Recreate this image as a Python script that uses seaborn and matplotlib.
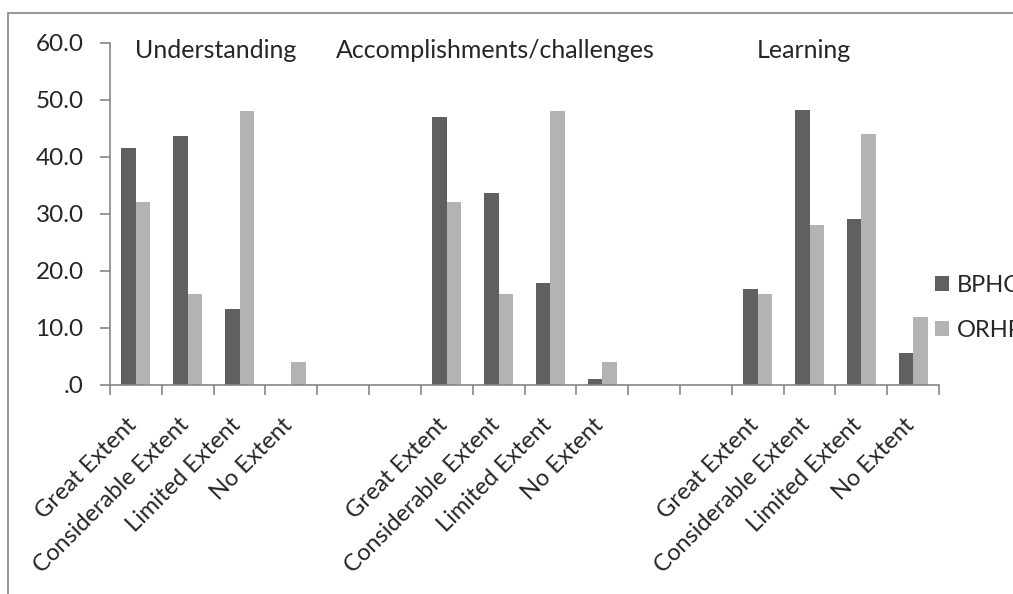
import matplotlib
matplotlib.use("Agg")
import matplotlib.pyplot as plt
import seaborn as sns
import pandas as pd
from matplotlib.patches import Rectangle

# Response levels and the three question groups
levels = ["Great Extent", "Considerable Extent", "Limited Extent", "No Extent"]
groups = ["Understanding", "Accomplishments/challenges", "Learning"]
series = ["BPHC", "ORHP"]

# Percentages per group (Great, Considerable, Limited, No)
understanding_bphc = [41.5, 43.7, 13.4, 0.0]
understanding_orhp = [32.0, 16.0, 48.0, 4.0]
accomplish_bphc = [47.0, 33.6, 17.9, 1.0]
accomplish_orhp = [32.0, 16.0, 48.0, 4.0]
learning_bphc = [16.8, 48.2, 29.1, 5.6]
learning_orhp = [16.0, 28.0, 44.0, 12.0]

yticks = [0, 10, 20, 30, 40, 50, 60]
ytick_labels = [".0", "10.0", "20.0", "30.0", "40.0", "50.0", "60.0"]

group_values = {
    "Understanding": (understanding_bphc, understanding_orhp),
    "Accomplishments/challenges": (accomplish_bphc, accomplish_orhp),
    "Learning": (learning_bphc, learning_orhp),
}

# Build the category slots: four levels per group, two empty slots between groups
rows = []
order = []
tick_text = []
for gi, g in enumerate(groups):
    bphc, orhp = group_values[g]
    for li, lvl in enumerate(levels):
        key = f"{g}|{lvl}"
        order.append(key)
        tick_text.append(lvl)
        rows.append({"slot": key, "series": "BPHC", "value": bphc[li]})
        rows.append({"slot": key, "series": "ORHP", "value": orhp[li]})
    if gi < len(groups) - 1:
        for k in range(2):
            order.append(f"gap{gi}{k}")
            tick_text.append("")
df = pd.DataFrame(rows)

sns.set_style("white")
plt.rcParams["font.family"] = ["Lato", "DejaVu Sans"]

fig = plt.figure(figsize=(10.13, 5.94), dpi=100)
ax = fig.add_axes([0.1086, 0.3519, 0.8184, 0.5763])

palette = {"BPHC": "#606060", "ORHP": "#b3b3b3"}
sns.barplot(data=df, x="slot", y="value", hue="series", order=order,
            hue_order=series, palette=palette, width=0.56, gap=0,
            linewidth=0, saturation=1, errorbar=None, ax=ax)

ax.set_xlim(-0.5, len(order) - 0.5)
ax.set_ylim(0, 60)
ax.set_xlabel("")
ax.set_ylabel("")

spine_col = "#868686"
for side in ["top", "right"]:
    ax.spines[side].set_visible(False)
for side in ["left", "bottom"]:
    ax.spines[side].set_color(spine_col)
    ax.spines[side].set_linewidth(1.2)

ax.set_yticks(yticks)
ax.set_yticklabels(ytick_labels, fontsize=17.5)
ax.set_xticks([i - 0.5 for i in range(len(order) + 1)], minor=True)
ax.set_xticks(range(len(order)))
ax.set_xticklabels(tick_text, rotation=45, ha="right", rotation_mode="anchor",
                   fontsize=17)
ax.tick_params(axis="x", which="major", length=0, pad=21)
ax.tick_params(axis="x", which="minor", length=7, width=1.2, color=spine_col,
               direction="out", bottom=True)
ax.tick_params(axis="y", length=7, width=1.2, color=spine_col, direction="out",
               left=True, pad=12)
# nudge rotated labels so their ends sit under the category centre
for lbl in ax.get_xticklabels():
    lbl.set_transform(lbl.get_transform() +
                      matplotlib.transforms.ScaledTranslation(-0.1, 0, fig.dpi_scale_trans))

# group headings
heading_x = [1.53, 6.93, 12.9]
for hx, g in zip(heading_x, groups):
    ax.text(hx, 58.7, g, ha="center", va="center", fontsize=18)

# legend on the right edge
leg = ax.legend(loc="center left", bbox_to_anchor=(0.995, 0.225), frameon=False,
                fontsize=17, handlelength=0.6, handleheight=0.6,
                handletextpad=0.35, labelspacing=1.0, borderaxespad=0,
                borderpad=0)

# outer chart border
fig.patches.append(Rectangle((8 / 1013, -0.1), 1.2, 1 - 13 / 594 + 0.1,
                             transform=fig.transFigure, fill=False,
                             edgecolor="#868686", linewidth=1.2))

fig.savefig("out.png", dpi=100)
